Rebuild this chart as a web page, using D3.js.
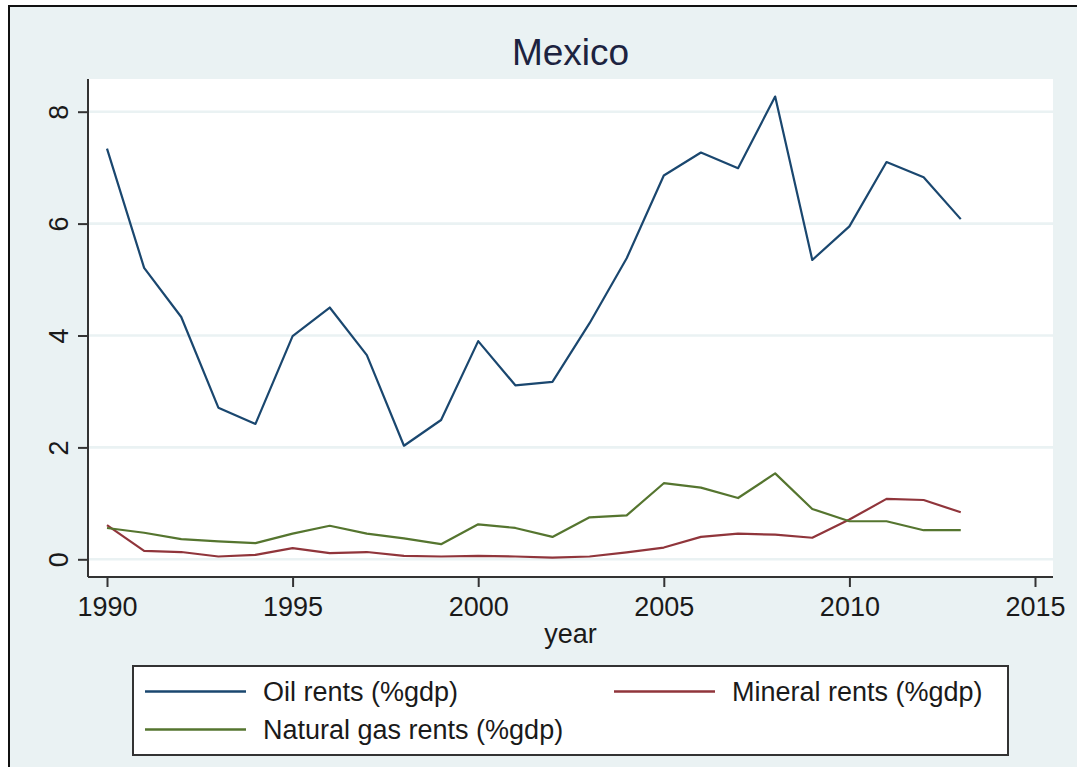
<!DOCTYPE html>
<html>
<head>
<meta charset="utf-8">
<script src="https://cdn.jsdelivr.net/npm/d3@7"></script>
<style>
  body { margin: 0; background: #fff; }
  svg text { font-family: Arial, "Liberation Sans", sans-serif; fill: #1a1a1a; }
</style>
</head>
<body>
<svg id="chart" width="1077" height="767"></svg>
<script>
// data
var years = [1990, 1991, 1992, 1993, 1994, 1995, 1996, 1997, 1998, 1999, 2000, 2001,
             2002, 2003, 2004, 2005, 2006, 2007, 2008, 2009, 2010, 2011, 2012, 2013];
var oil = [7.34, 5.21, 4.33, 2.71, 2.42, 3.99, 4.50, 3.65, 2.03, 2.49, 3.90, 3.11,
           3.17, 4.22, 5.38, 6.86, 7.27, 6.99, 8.27, 5.35, 5.95, 7.10, 6.83, 6.08];
var mineral = [0.61, 0.15, 0.13, 0.05, 0.08, 0.20, 0.11, 0.13, 0.06, 0.05, 0.06, 0.05,
               0.03, 0.05, 0.125, 0.21, 0.40, 0.46, 0.44, 0.385, 0.71, 1.08, 1.06, 0.84];
var gas = [0.56, 0.475, 0.36, 0.32, 0.29, 0.46, 0.60, 0.46, 0.375, 0.27, 0.625, 0.56,
           0.40, 0.75, 0.785, 1.36, 1.28, 1.095, 1.535, 0.90, 0.68, 0.68, 0.52, 0.52];
var xTicks = [1990, 1995, 2000, 2005, 2010, 2015];
var yTicks = [0, 2, 4, 6, 8];
var seriesNames = ['Oil rents (%gdp)', 'Mineral rents (%gdp)', 'Natural gas rents (%gdp)'];
var seriesColors = ['#1a476f', '#90353b', '#55752f'];
var title = 'Mexico';
var xTitle = 'year';

var svg = d3.select('#chart');

// outer frame
svg.append('rect')
  .attr('x', 9).attr('y', 6)
  .attr('width', 1100).attr('height', 800)
  .attr('fill', '#eaf2f3')
  .attr('stroke', '#111').attr('stroke-width', 2);

// plot region
var plot = {left: 88, right: 1053, top: 79, bottom: 577};
svg.append('rect')
  .attr('x', plot.left).attr('y', plot.top)
  .attr('width', plot.right - plot.left).attr('height', plot.bottom - plot.top)
  .attr('fill', '#fff');

var x = d3.scaleLinear().domain([1990, 2015]).range([107, 1035]);
var y = d3.scaleLinear().domain([0, 8]).range([559.3, 111.7]);

// gridlines
svg.append('g').selectAll('line')
  .data(yTicks).enter().append('line')
  .attr('x1', plot.left).attr('x2', plot.right)
  .attr('y1', d => y(d)).attr('y2', d => y(d))
  .attr('stroke', '#eaf2f3').attr('stroke-width', 2.6);

// series lines
var seriesData = [oil, mineral, gas];
var line = d3.line()
  .x((d, i) => x(years[i]))
  .y(d => y(d));
svg.append('g').selectAll('path')
  .data(seriesData).enter().append('path')
  .attr('d', line)
  .attr('fill', 'none')
  .attr('stroke', (d, i) => seriesColors[i])
  .attr('stroke-width', 2.2)
  .attr('stroke-linejoin', 'round');

// axes
var yAxis = d3.axisLeft(y).tickValues(yTicks).tickSize(10).tickPadding(0).tickFormat(d3.format('d'));
var gy = svg.append('g').attr('transform', 'translate(' + plot.left + ',0)').call(yAxis);
gy.select('.domain').attr('d', 'M0,' + plot.top + 'V' + plot.bottom);
gy.selectAll('line').attr('stroke', '#333').attr('stroke-width', 2);
gy.select('.domain').attr('stroke', '#333').attr('stroke-width', 2);
gy.selectAll('text')
  .attr('x', 0).attr('y', 0).attr('dy', '0.36em')
  .attr('text-anchor', 'middle')
  .attr('transform', 'translate(-30,0) rotate(-90)')
  .style('font-size', '27px');

var xAxis = d3.axisBottom(x).tickValues(xTicks).tickSize(10).tickPadding(0).tickFormat(d3.format('d'));
var gx = svg.append('g').attr('transform', 'translate(0,' + plot.bottom + ')').call(xAxis);
gx.select('.domain').attr('d', 'M' + plot.left + ',0H' + plot.right);
gx.selectAll('line').attr('stroke', '#333').attr('stroke-width', 2);
gx.select('.domain').attr('stroke', '#333').attr('stroke-width', 2);
gx.selectAll('text')
  .attr('y', 39).attr('dy', 0)
  .style('font-size', '27px');
svg.selectAll('.tick text').attr('fill', '#1a1a1a');

// titles
svg.append('text')
  .attr('x', (plot.left + plot.right) / 2).attr('y', 65)
  .attr('text-anchor', 'middle')
  .style('font-size', '37px').style('fill', '#1c2340')
  .text(title);
svg.append('text')
  .attr('x', (plot.left + plot.right) / 2).attr('y', 643)
  .attr('text-anchor', 'middle')
  .style('font-size', '27px')
  .text(xTitle);

// legend
svg.append('rect')
  .attr('x', 133).attr('y', 666)
  .attr('width', 875).attr('height', 89)
  .attr('fill', '#fff')
  .attr('stroke', '#333').attr('stroke-width', 2);
var legendPos = [[145, 691.5], [614, 691.5], [145, 729.5]];
var leg = svg.append('g').selectAll('g')
  .data(seriesNames).enter().append('g')
  .attr('transform', (d, i) => 'translate(' + legendPos[i][0] + ',' + legendPos[i][1] + ')');
leg.append('line')
  .attr('x1', 0).attr('x2', 101)
  .attr('stroke', (d, i) => seriesColors[i]).attr('stroke-width', 2.4);
leg.append('text')
  .attr('x', 118).attr('dy', '0.35em')
  .style('font-size', '27px')
  .text(d => d);
</script>
</body>
</html>
